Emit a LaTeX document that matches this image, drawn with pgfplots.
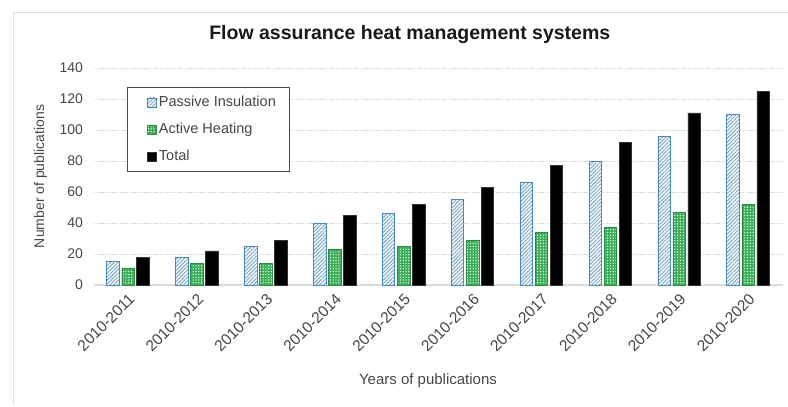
\documentclass[border=0pt]{standalone}
\usepackage{pgfplots}
\pgfplotsset{compat=1.18}
\usepackage{fontspec}
\setmainfont{Liberation Sans}
\usetikzlibrary{patterns.meta}
\definecolor{pblue}{RGB}{110,165,210}
\definecolor{pblueedge}{RGB}{75,135,195}
\definecolor{agreen}{RGB}{55,175,85}
\definecolor{txtgray}{RGB}{70,70,70}
\definecolor{gridgray}{RGB}{215,215,215}
\begin{document}
\begin{tikzpicture}[x=1bp,y=1bp]
\useasboundingbox (0,0) rectangle (788,406);
\draw[gridgray!80, line width=1bp] (13,0) -- (13,393) -- (788,393);
\begin{axis}[
  at={(93.5bp,121bp)}, anchor=south west,
  scale only axis, width=689bp, height=217bp,
  ymin=0, ymax=140, ytick={0,20,...,140},
  xmin=-0.5, xmax=9.5, xtick=data,
  xticklabels={2010-2011,2010-2012,2010-2013,2010-2014,2010-2015,2010-2016,2010-2017,2010-2018,2010-2019,2010-2020},
  ybar=2.5bp, bar width=12.5bp,
  axis x line*=bottom, axis y line*=left,
  x axis line style={draw=gridgray!90, line width=1.2bp, -},
  y axis line style={draw=none},
  major tick length=0pt,
  ymajorgrids, grid style={gridgray, dash pattern=on 1.5bp off 0.7bp, line width=0.8bp},
  tick label style={font=\fontsize{14bp}{16bp}\selectfont, text=txtgray},
  /pgf/number format/assume math mode=true,
  yticklabel style={xshift=-7bp},
  xticklabel style={rotate=45, anchor=east, font=\fontsize{15.5bp}{17bp}\selectfont, yshift=-11bp, xshift=-2bp},
  ylabel={Number of publications},
  ylabel style={at={(axis description cs:-0.077,0.5)}, anchor=center, font=\fontsize{14bp}{16bp}\selectfont, text=txtgray},
  xlabel={Years of publications},
  xlabel style={at={(axis description cs:0.4855,-0.442)}, anchor=center, font=\fontsize{15bp}{17bp}\selectfont, text=txtgray},
  every axis title shift=0pt,
  title={\textbf{Flow assurance heat management systems}},
  title style={at={(axis description cs:0.459,1.155)}, anchor=center, font=\fontsize{19.5bp}{22bp}\selectfont, text=black!90},
  legend style={at={(axis description cs:0.0486,0.912)}, anchor=north west,
    draw=black!70, line width=0.8bp, font=\fontsize{14.5bp}{16bp}\selectfont, text=txtgray,
    inner xsep=12bp, inner ysep=7bp, row sep=11bp, legend cell align=left},
  legend image code/.code={\path (0bp,0bp); \draw[#1, line width=0.5bp] (8bp,-4.5bp) rectangle (17bp,4.5bp);},
]
\addplot[draw=pblueedge, line width=0.7bp, fill=white,
  postaction={pattern={Lines[angle=45,distance=2.6bp,line width=0.9bp]}, pattern color=pblue}]
  coordinates {(0,15) (1,18) (2,25) (3,40) (4,46) (5,55) (6,66) (7,80) (8,96) (9,110)};
\addplot[draw=agreen!80!black, line width=0.4bp, fill=agreen,
  postaction={pattern={Dots[distance=2.8bp,radius=0.7bp]}, pattern color=white}]
  coordinates {(0,11) (1,14) (2,14) (3,23) (4,25) (5,29) (6,34) (7,37) (8,47) (9,52)};
\addplot[draw=black!80, line width=0.5bp, fill=black]
  coordinates {(0,18) (1,22) (2,29) (3,45) (4,52) (5,63) (6,77) (7,92) (8,111) (9,125)};
\legend{Passive Insulation, Active Heating, Total}
\end{axis}
\end{tikzpicture}
\end{document}
